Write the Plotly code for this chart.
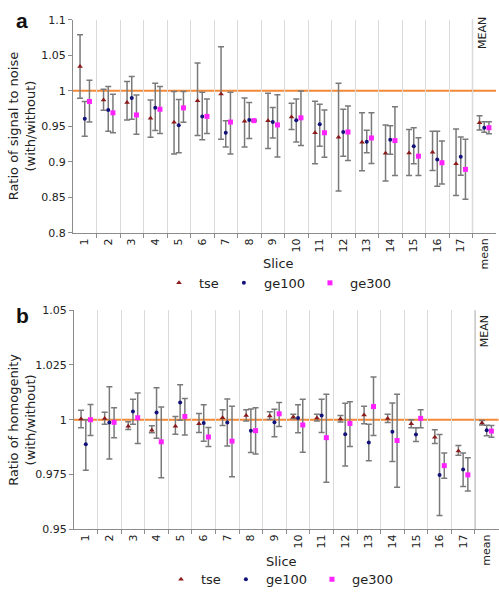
import plotly.graph_objects as go

# ---------------- data ----------------
categories = [str(i) for i in range(1, 18)] + ["mean"]

# Panel a: ratio of signal to noise
snr_tse = [1.034, 0.987, 0.9835, 0.9615, 0.9556, 0.986, 0.9955, 0.957, 0.958, 0.963, 0.941, 0.9345, 0.9276, 0.912, 0.9125, 0.9134, 0.8974, 0.955]
snr_tse_hi = [1.079, 1.002, 1.013, 0.987, 0.999, 1.039, 1.062, 0.990, 0.9964, 0.9826, 0.9854, 1.0106, 0.969, 0.952, 0.9455, 0.943, 0.9464, 0.965]
snr_tse_lo = [0.9895, 0.9725, 0.959, 0.9345, 0.911, 0.937, 0.932, 0.921, 0.919, 0.9455, 0.8975, 0.859, 0.8876, 0.873, 0.881, 0.8878, 0.8526, 0.945]

snr_ge100 = [0.9606, 0.973, 0.990, 0.976, 0.9514, 0.964, 0.941, 0.959, 0.956, 0.9587, 0.953, 0.942, 0.9285, 0.931, 0.922, 0.9033, 0.9074, 0.948]
snr_ge100_hi = [0.985, 1.006, 1.020, 1.0106, 0.9876, 0.998, 0.958, 0.9835, 0.9766, 0.9886, 0.981, 0.974, 0.9446, 0.951, 0.948, 0.943, 0.935, 0.9565]
snr_ge100_lo = [0.936, 0.943, 0.960, 0.944, 0.913, 0.931, 0.921, 0.933, 0.9336, 0.928, 0.922, 0.908, 0.913, 0.9106, 0.8974, 0.8657, 0.8813, 0.9418]

snr_ge300 = [0.985, 0.969, 0.966, 0.974, 0.976, 0.964, 0.956, 0.958, 0.952, 0.962, 0.941, 0.942, 0.9336, 0.930, 0.908, 0.8988, 0.8895, 0.948]
snr_ge300_hi = [1.015, 0.995, 0.994, 1.006, 0.999, 0.9886, 0.998, 0.959, 0.9945, 0.9996, 0.973, 0.9785, 0.969, 0.9776, 0.934, 0.9294, 0.9318, 0.9565]
snr_ge300_lo = [0.956, 0.941, 0.939, 0.940, 0.9556, 0.940, 0.911, 0.957, 0.907, 0.923, 0.9065, 0.902, 0.8978, 0.881, 0.881, 0.869, 0.8473, 0.9395]

# Panel b: ratio of homogenity
hom_tse = [1.0003, 1.0006, 0.997, 0.9952, 0.997, 0.9982, 1.0009, 1.0019, 1.0017, 1.0012, 1.0008, 1.0003, 1.0021, 1.0006, 0.9982, 0.992, 0.9857, 0.9985]
hom_tse_hi = [1.0043, 1.0034, 0.9991, 0.9972, 1.0015, 1.0028, 1.0045, 1.0045, 1.0036, 1.0025, 1.0025, 1.0019, 1.0061, 1.0025, 1.0, 0.9954, 0.9882, 0.9996]
hom_tse_lo = [0.9963, 0.9979, 0.9955, 0.994, 0.9933, 0.9942, 0.9973, 0.9994, 1.0001, 1.0004, 0.9994, 0.999, 0.9982, 0.9987, 0.9963, 0.9891, 0.9838, 0.9976]

hom_ge100 = [0.9888, 0.9987, 1.0037, 1.0033, 1.0079, 0.9985, 0.9987, 0.995, 0.9988, 1.0008, 1.0019, 0.9933, 0.9896, 0.9945, 0.9932, 0.9747, 0.9773, 0.9952]
hom_ge100_hi = [1.0, 1.015, 1.0094, 1.0146, 1.016, 1.0068, 1.0095, 1.0049, 1.0048, 1.0068, 1.0094, 1.0075, 0.9979, 1.0076, 0.9963, 0.9932, 0.9848, 0.9975]
hom_ge100_lo = [0.9769, 0.982, 0.9979, 0.9915, 0.9998, 0.9902, 0.988, 0.985, 0.9922, 0.994, 0.9942, 0.9788, 0.9812, 0.9809, 0.990, 0.9562, 0.9695, 0.9927]

hom_ge300 = [1.0, 0.9988, 1.0009, 0.9899, 1.0015, 0.9921, 0.9902, 0.995, 1.0027, 0.9976, 0.9918, 0.9983, 1.006, 0.9905, 1.0006, 0.979, 0.9748, 0.9948]
hom_ge300_hi = [1.007, 1.0055, 1.0122, 1.0058, 1.0097, 0.9964, 1.0061, 1.0055, 1.0079, 1.0094, 1.0116, 1.0082, 1.0195, 1.0116, 1.0046, 0.9848, 0.9826, 0.9973]
hom_ge300_lo = [0.9928, 0.9918, 0.9891, 0.9735, 0.993, 0.9878, 0.9739, 0.9843, 0.9969, 0.9851, 0.9714, 0.9878, 0.9928, 0.9691, 0.9963, 0.9733, 0.9674, 0.992]

series_names = ["tse", "ge100", "ge300"]
ytick_a = [0.8, 0.85, 0.9, 0.95, 1.0, 1.05, 1.1]
ytick_a_text = ["0.8", "0.85", "0.9", "0.95", "1", "1.05", "1.1"]
ytick_b = [0.95, 0.975, 1.0, 1.025, 1.05]
ytick_b_text = ["0.95", "0.975", "1", "1.025", "1.05"]

# ---------------- styling ----------------
FONT = "DejaVu Sans"
TXT = "#222222"
colors = {"tse": "#8B1A1A", "ge100": "#12127A", "ge300": "#FF22FF"}
symbols = {"tse": "triangle-up", "ge100": "circle", "ge300": "square"}
sizes = {"tse": 5, "ge100": 4, "ge300": 5}
offsets = {"tse": -0.2, "ge100": 0.0, "ge300": 0.2}
ERR = "#7A7A7A"
GRID = "#DADADA"
AXIS = "#8C8C8C"
ORANGE = "#F28A3A"

W, H = 499, 601
def px(x):
    return x / W
def py(y):
    return 1 - y / H

fig = go.Figure()

idx = list(range(len(categories)))

panels = [
    ("x", "y", "legend", [(snr_tse, snr_tse_hi, snr_tse_lo), (snr_ge100, snr_ge100_hi, snr_ge100_lo), (snr_ge300, snr_ge300_hi, snr_ge300_lo)]),
    ("x2", "y2", "legend2", [(hom_tse, hom_tse_hi, hom_tse_lo), (hom_ge100, hom_ge100_hi, hom_ge100_lo), (hom_ge300, hom_ge300_hi, hom_ge300_lo)]),
]

for xa, ya, lg, data in panels:
    for name, (vals, hi, lo) in zip(series_names, data):
        fig.add_trace(go.Scatter(
            x=[i + offsets[name] for i in idx],
            y=vals,
            mode="markers",
            name=name,
            xaxis=xa, yaxis=ya, legend=lg,
            marker=dict(color=colors[name], symbol=symbols[name], size=sizes[name], line=dict(width=0)),
            error_y=dict(type="data", symmetric=False,
                         array=[h - v for h, v in zip(hi, vals)],
                         arrayminus=[v - l for v, l in zip(vals, lo)],
                         color=ERR, thickness=1.5, width=3),
            cliponaxis=False,
        ))

minor_vals = [i + 0.5 for i in idx[:-1]]

xcommon = dict(
    range=[-0.5, len(categories) - 0.5],
    tickmode="array", tickvals=idx, ticktext=categories,
    tickangle=-90, ticks="", showgrid=False,
    showline=True, linecolor=AXIS, linewidth=1,
    tickfont=dict(family=FONT, size=11, color=TXT),
    minor=dict(tickmode="array", tickvals=minor_vals, ticks="outside", ticklen=4,
               tickcolor=AXIS, showgrid=True, gridcolor=GRID, gridwidth=1),
    zeroline=False, fixedrange=True,
)
ycommon = dict(
    tickmode="array", showgrid=False, zeroline=False,
    showline=True, linecolor=AXIS, linewidth=1,
    ticks="outside", ticklen=4, tickcolor=AXIS,
    tickfont=dict(family=FONT, size=11, color=TXT),
    fixedrange=True,
)

fig.update_layout(
    width=W, height=H, autosize=False,
    margin=dict(l=0, r=0, t=0, b=0),
    paper_bgcolor="white", plot_bgcolor="white",
    font=dict(family=FONT, color=TXT),
    xaxis=dict(domain=[px(73), px(496)], anchor="y", **xcommon),
    yaxis=dict(domain=[py(232), py(14)], anchor="x", range=[0.8, 1.1],
               tickvals=ytick_a, ticktext=ytick_a_text, **ycommon),
    xaxis2=dict(domain=[px(74), px(498.5)], anchor="y2", **xcommon),
    yaxis2=dict(domain=[py(534.7), py(311)], anchor="x2", range=[0.95, 1.05],
                tickvals=ytick_b, ticktext=ytick_b_text, **ycommon),
    legend=dict(orientation="h", x=px(278), xanchor="center", y=py(283), yanchor="middle",
                font=dict(family=FONT, size=13, color=TXT), bgcolor="rgba(0,0,0,0)"),
    legend2=dict(orientation="h", x=px(280), xanchor="center", y=py(586), yanchor="middle",
                 font=dict(family=FONT, size=13, color=TXT), bgcolor="rgba(0,0,0,0)"),
    showlegend=True,
)

# reference line at 1 and MEAN separator
for xa, ya in [("x", "y"), ("x2", "y2")]:
    fig.add_shape(type="line", xref=f"{xa} domain", yref=ya, x0=0, x1=1, y0=1.0, y1=1.0,
                  line=dict(color=ORANGE, width=2), layer="below")
    fig.add_shape(type="line", xref=xa, yref=f"{ya} domain", x0=len(categories) - 1.5, x1=len(categories) - 1.5,
                  y0=0, y1=1, line=dict(color="#9A9A9A", width=1.2), layer="below")

def note(text, x, y, size, angle=0, family=FONT, color=TXT):
    return dict(text=text, xref="paper", yref="paper", x=px(x), y=py(y), textangle=angle,
                xanchor="center", yanchor="middle", showarrow=False,
                font=dict(family=family, size=size, color=color))

ann = [
    note("MEAN", 482.5, 28, 11, -90),
    note("MEAN", 484.5, 333, 11, -90),
    note("<b>a</b>", 22, 15, 21, family="Liberation Sans", color="#111111"),
    note("<b>b</b>", 22, 316, 21, family="Liberation Sans", color="#111111"),
    note("Ratio of signal to noise<br>(with/without)", 22, 123, 13, -90),
    note("Ratio of homogenity<br>(with/without)", 22, 423, 13, -90),
    note("Slice", 278, 263, 13),
    note("Slice", 281, 568, 13),
]
fig.update_layout(annotations=ann)

fig.write_html("out.html")
